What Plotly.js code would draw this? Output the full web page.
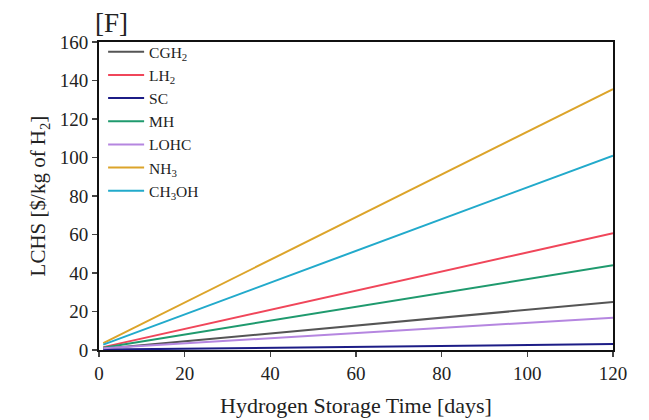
<!DOCTYPE html>
<html>
<head>
<meta charset="utf-8">
<script src="https://cdn.plot.ly/plotly-3.0.1.min.js"></script>
<style>html,body{margin:0;padding:0;background:#fff;}#chart{width:649px;height:420px;}</style>
</head>
<body>
<div id="chart"></div>
<script>
const days = [1, 120];
const seriesNames = ["CGH<sub>2</sub>", "LH<sub>2</sub>", "SC", "MH", "LOHC", "NH<sub>3</sub>", "CH<sub>3</sub>OH"];
const CGH2 = [0.6, 25.0];
const LH2 = [1.5, 60.6];
const SC = [0.2, 3.1];
const MH = [1.2, 44.0];
const LOHC = [0.9, 16.8];
const NH3 = [3.6, 135.5];
const CH3OH = [2.8, 101.0];
const xTicks = [0, 20, 40, 60, 80, 100, 120];
const yTicks = [0, 20, 40, 60, 80, 100, 120, 140, 160];

const values = [CGH2, LH2, SC, MH, LOHC, NH3, CH3OH];
const colors = ["#555555", "#f0465a", "#1c1c86", "#1f9a6e", "#b586e0", "#dca42a", "#22aacb"];

const traces = values.map((v, i) => ({
  x: days, y: v, name: seriesNames[i], mode: "lines", type: "scatter",
  line: {color: colors[i], width: 2}
}));

const font = {family: "Liberation Serif, Times New Roman, serif", color: "#222"};
const layout = {
  width: 649, height: 420,
  margin: {l: 99, r: 36, t: 42, b: 70},
  paper_bgcolor: "#fff", plot_bgcolor: "#fff",
  font: font,
  showlegend: true,
  legend: {x: 0.008, y: 1.022, xanchor: "left", yanchor: "top", bgcolor: "rgba(0,0,0,0)",
           font: {family: font.family, size: 15.5, color: "#222"},
           itemwidth: 36},
  annotations: [{text: "[F]", xref: "paper", yref: "paper", x: -0.012, y: 1.005, xanchor: "left", yanchor: "bottom",
                 showarrow: false, font: {family: font.family, size: 27, color: "#222"}}],
  xaxis: {range: [0, 120], tickvals: xTicks, ticktext: xTicks.map(String), ticks: "outside", ticklen: 5, tickwidth: 1.5,
          showline: true, linewidth: 2, linecolor: "#111", mirror: true, showgrid: false, zeroline: false,
          tickfont: {family: font.family, size: 19, color: "#222"},
          title: {text: "Hydrogen Storage Time [days]", font: {family: font.family, size: 22, color: "#222"}, standoff: 15}},
  yaxis: {range: [0, 160], tickvals: yTicks, ticktext: yTicks.map(String), ticks: "outside", ticklen: 5, tickwidth: 1.5,
          showline: true, linewidth: 2, linecolor: "#111", mirror: true, showgrid: false, zeroline: false,
          tickfont: {family: font.family, size: 19, color: "#222"},
          title: {text: "LCHS [$/kg of H<sub>2</sub>]", font: {family: font.family, size: 21, color: "#222"}, standoff: 8}}
};
Plotly.newPlot("chart", traces, layout, {displayModeBar: false, staticPlot: true});
</script>
</body>
</html>
